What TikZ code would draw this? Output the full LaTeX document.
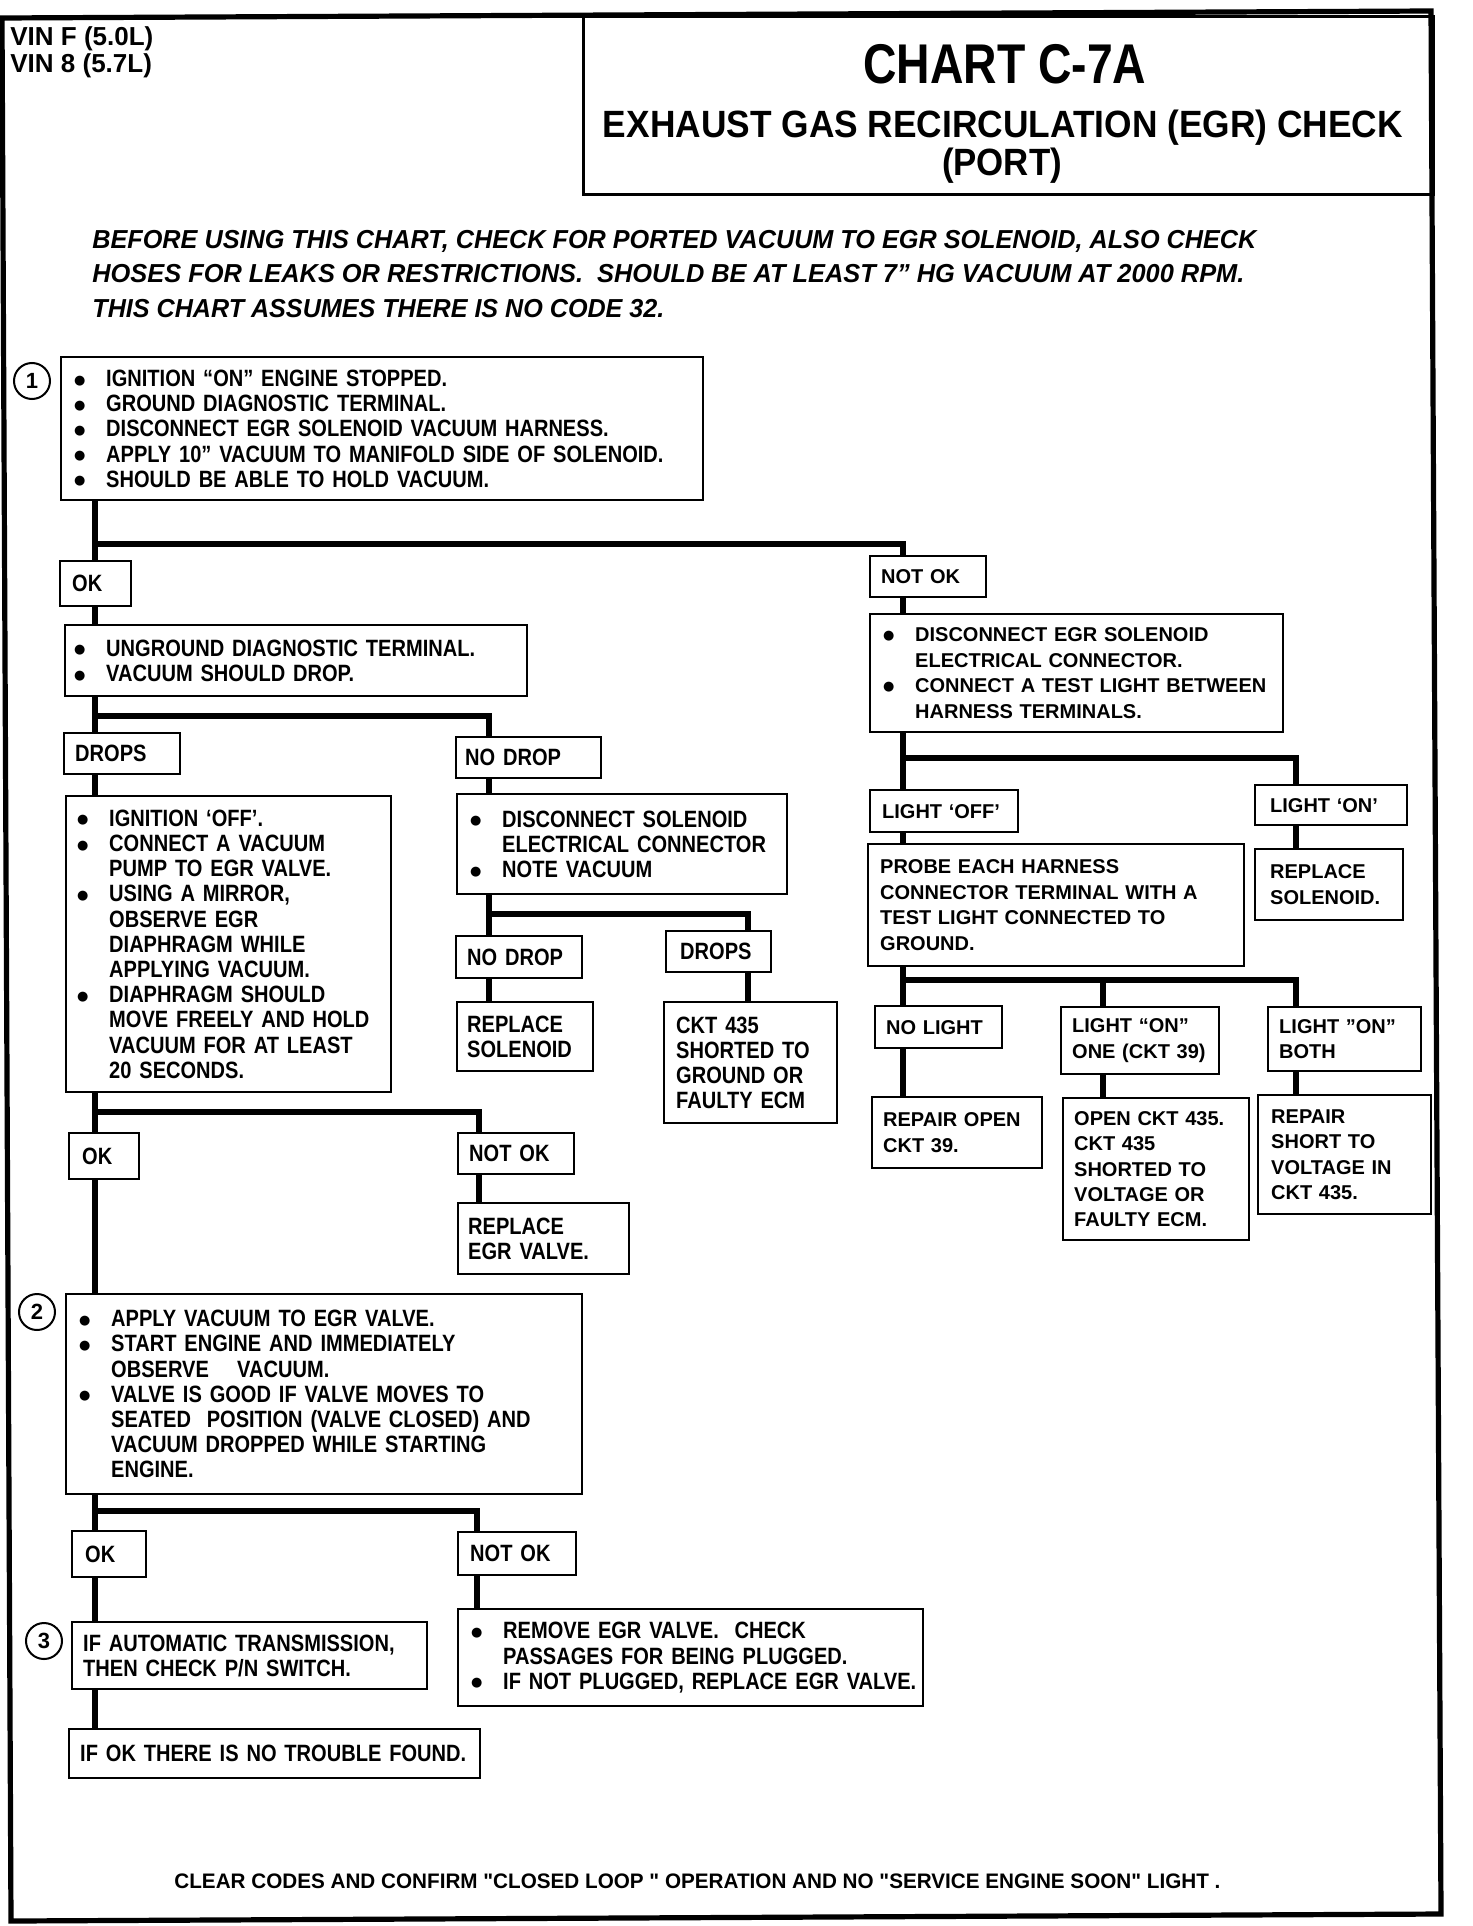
\documentclass[tikz,border=0pt]{standalone}
\usepackage{fontspec}
\usepackage{graphicx}
\setmainfont{Liberation Sans}
\newfontfamily\cnd{Liberation Sans}[FakeStretch=0.85]
\newfontfamily\djv{DejaVu Sans}
\newcommand\lft{\fontsize{11.8}{12.6}\selectfont\cnd\bfseries}
\newcommand\rgt{\fontsize{10.0}{12.7}\selectfont\bfseries}
\newcommand\xbul{\raisebox{1.2pt}{\djv\fontsize{6.5}{7}\selectfont ●}}
\newcommand\xitm[1]{\mbox{\makebox[17pt][l]{\hspace*{1pt}\xbul}#1}}
\newcommand\xcnt[1]{\mbox{\hspace*{17pt}#1}}
\newcommand\xlne[1]{\mbox{#1}}
\tikzset{
  box/.style={draw, line width=1.2pt, anchor=north west, inner ysep=0pt, align=left},
  conn/.style={line width=3pt},
  numc/.style={circle, draw, line width=1pt, minimum size=18pt, inner sep=0pt, font=\fontsize{11}{12}\selectfont\bfseries},
}
\newcommand\bx[8]{%
  \pgfmathsetmacro\bxtw{#4/2-2*#6}%
  \node[box, inner xsep=#6pt, minimum width=#4*0.5pt, minimum height=#5*0.5pt, text width=\bxtw pt, font=#7] (#1) at (#2,#3) {#8};}
\begin{document}
\begin{tikzpicture}[x=0.5pt,y=-0.5pt]
\useasboundingbox (0,0) rectangle (1472,1926);
% outer frame
\draw[line width=2.6pt, line join=miter] (2,18) -- (1431,11) -- (1441,1914) -- (11,1921) -- cycle;
% title box
\node[draw, line width=1.5pt, anchor=north west, minimum width=425pt, minimum height=89pt, inner sep=0pt] (title) at (582,15) {};
\node[anchor=base, inner sep=0pt, font=\fontsize{28}{30}\selectfont\cnd\bfseries] (titleA) at (1005,84) {\resizebox{141.5pt}{\height}{CHART C-7A}};
\node[anchor=base, inner sep=0pt, font=\fontsize{19}{21}\selectfont\cnd\bfseries] (titleB) at (1003,138) {\resizebox{400pt}{\height}{EXHAUST GAS RECIRCULATION (EGR) CHECK}};
\node[anchor=base, inner sep=0pt, font=\fontsize{19}{21}\selectfont\cnd\bfseries] (titleC) at (1002,176) {\resizebox{60pt}{\height}{(PORT)}};
\node[anchor=base west, inner sep=0pt, font=\fontsize{13}{14}\selectfont\bfseries] (vin1) at (10,46) {VIN F (5.0L)};
\node[anchor=base west, inner sep=0pt, font=\fontsize{13}{14}\selectfont\bfseries] (vin2) at (10,73) {VIN 8 (5.7L)};
% intro
\node[anchor=base west, inner sep=0pt, font=\fontsize{13}{14}\selectfont\cnd\bfseries\itshape] (intro1) at (92,249) {\resizebox{582pt}{\height}{BEFORE USING THIS CHART, CHECK FOR PORTED VACUUM TO EGR SOLENOID, ALSO CHECK}};
\node[anchor=base west, inner sep=0pt, font=\fontsize{13}{14}\selectfont\cnd\bfseries\itshape] (intro2) at (92,283) {\resizebox{576pt}{\height}{HOSES FOR LEAKS OR RESTRICTIONS.\ \ SHOULD BE AT LEAST 7” HG VACUUM AT 2000 RPM.}};
\node[anchor=base west, inner sep=0pt, font=\fontsize{13}{14}\selectfont\cnd\bfseries\itshape] (intro3) at (92,317) {\resizebox{286pt}{\height}{THIS CHART ASSUMES THERE IS NO CODE 32.}};
% circles
\node[numc] (c1) at (32,381) {1};
\node[numc] (c2) at (37,1312) {2};
\node[numc] (c3) at (44,1641) {3};
% boxes
\bx{b1}{60}{356}{642}{143}{5.5}{\lft}{\xitm{IGNITION “ON” ENGINE STOPPED.}\\\xitm{GROUND DIAGNOSTIC TERMINAL.}\\\xitm{DISCONNECT EGR SOLENOID VACUUM HARNESS.}\\\xitm{APPLY 10” VACUUM TO MANIFOLD SIDE OF SOLENOID.}\\\xitm{SHOULD BE ABLE TO HOLD VACUUM.}}
\bx{ok1}{59}{560}{71}{45}{6}{\lft}{\xlne{OK}}
\bx{notok1}{869}{555}{116}{41}{5.5}{\rgt}{\xlne{NOT OK}}
\bx{b2}{64}{624}{462}{71}{3.5}{\lft}{\xitm{UNGROUND DIAGNOSTIC TERMINAL.}\\\xitm{VACUUM SHOULD DROP.}}
\bx{b3}{869}{613}{413}{118}{5.5}{\rgt}{\xitm{DISCONNECT EGR SOLENOID}\\\xcnt{ELECTRICAL CONNECTOR.}\\\xitm{CONNECT A TEST LIGHT BETWEEN}\\\xcnt{HARNESS TERMINALS.}}
\bx{drops1}{63}{732}{116}{41}{5.5}{\lft}{\xlne{DROPS}}
\bx{nodrop1}{455}{736}{145}{41}{4.5}{\lft}{\xlne{NO DROP}}
\bx{b4}{65}{795}{325}{296}{4.5}{\lft}{\xitm{IGNITION ‘OFF’.}\\\xitm{CONNECT A VACUUM}\\\xcnt{PUMP TO EGR VALVE.}\\\xitm{USING A MIRROR,}\\\xcnt{OBSERVE EGR}\\\xcnt{DIAPHRAGM WHILE}\\\xcnt{APPLYING VACUUM.}\\\xitm{DIAPHRAGM SHOULD}\\\xcnt{MOVE FREELY AND HOLD}\\\xcnt{VACUUM FOR AT LEAST}\\\xcnt{20 SECONDS.}}
\bx{b5}{456}{793}{330}{100}{5.5}{\lft}{\xitm{DISCONNECT SOLENOID}\\\xcnt{ELECTRICAL CONNECTOR}\\\xitm{NOTE VACUUM}}
\bx{nodrop2}{455}{935}{126}{42}{5.5}{\lft}{\xlne{NO DROP}}
\bx{drops2}{665}{930}{105}{41}{7}{\lft}{\xlne{DROPS}}
\bx{b6}{456}{1001}{136}{69}{5}{\lft}{\xlne{REPLACE}\\\xlne{SOLENOID}}
\bx{b7}{663}{1001}{173}{121}{6}{\lft}{\xlne{CKT 435}\\\xlne{SHORTED TO}\\\xlne{GROUND OR}\\\xlne{FAULTY ECM}}
\bx{ok2}{68}{1132}{70}{46}{6.5}{\lft}{\xlne{OK}}
\bx{notok2}{457}{1132}{116}{41}{5.5}{\lft}{\xlne{NOT OK}}
\bx{b8}{457}{1202}{171}{71}{5}{\lft}{\xlne{REPLACE}\\\xlne{EGR VALVE.}}
\bx{b9}{65}{1293}{516}{200}{5.5}{\lft}{\xitm{APPLY VACUUM TO EGR VALVE.}\\\xitm{START ENGINE AND IMMEDIATELY}\\\xcnt{OBSERVE\hspace{1.2em}VACUUM.}\\\xitm{VALVE IS GOOD IF VALVE MOVES TO}\\\xcnt{SEATED\ \ POSITION (VALVE CLOSED) AND}\\\xcnt{VACUUM DROPPED WHILE STARTING}\\\xcnt{ENGINE.}}
\bx{ok3}{71}{1530}{74}{46}{6.5}{\lft}{\xlne{OK}}
\bx{notok3}{457}{1531}{118}{43}{6}{\lft}{\xlne{NOT OK}}
\bx{b10}{71}{1621}{355}{67}{5.5}{\lft}{\xlne{IF AUTOMATIC TRANSMISSION,}\\\xlne{THEN CHECK P/N SWITCH.}}
\bx{b11}{457}{1608}{465}{97}{5.5}{\lft}{\xitm{REMOVE EGR VALVE.\ \ CHECK}\\\xcnt{PASSAGES FOR BEING PLUGGED.}\\\xitm{IF NOT PLUGGED, REPLACE EGR VALVE.}}
\bx{b12}{68}{1728}{411}{49}{5.5}{\lft}{\xlne{IF OK THERE IS NO TROUBLE FOUND.}}
\bx{lightoff}{869}{789}{148}{42}{6}{\rgt}{\xlne{LIGHT ‘OFF’}}
\bx{lighton}{1254}{784}{152}{40}{7.5}{\rgt}{\xlne{LIGHT ‘ON’}}
\bx{b13}{867}{843}{376}{122}{6}{\rgt}{\xlne{PROBE EACH HARNESS}\\\xlne{CONNECTOR TERMINAL WITH A}\\\xlne{TEST LIGHT CONNECTED TO}\\\xlne{GROUND.}}
\bx{b14}{1254}{848}{148}{71}{7.5}{\rgt}{\xlne{REPLACE}\\\xlne{SOLENOID.}}
\bx{nolight}{874}{1005}{127}{42}{5.5}{\rgt}{\xlne{NO LIGHT}}
\bx{lightone}{1060}{1006}{158}{67}{5.5}{\rgt}{\xlne{LIGHT “ON”}\\\xlne{ONE (CKT 39)}}
\bx{lightboth}{1267}{1006}{153}{64}{5.5}{\rgt}{\xlne{LIGHT ”ON”}\\\xlne{BOTH}}
\bx{b15}{871}{1096}{170}{71}{5.5}{\rgt}{\xlne{REPAIR OPEN}\\\xlne{CKT 39.}}
\bx{b16}{1062}{1097}{186}{142}{5.5}{\rgt}{\xlne{OPEN CKT 435.}\\\xlne{CKT 435}\\\xlne{SHORTED TO}\\\xlne{VOLTAGE OR}\\\xlne{FAULTY ECM.}}
\bx{b17}{1257}{1094}{173}{119}{6.5}{\rgt}{\xlne{REPAIR}\\\xlne{SHORT TO}\\\xlne{VOLTAGE IN}\\\xlne{CKT 435.}}
% footer
\node[anchor=base west, inner sep=0pt, font=\fontsize{10.5}{12}\selectfont\cnd\bfseries] (foot) at (174,1888) {\resizebox{523pt}{\height}{CLEAR CODES AND CONFIRM "CLOSED LOOP " OPERATION AND NO "SERVICE ENGINE SOON" LIGHT .}};
% junctions
\coordinate (s1) at (95,544); \coordinate (t1) at (903,544);
\coordinate (s2) at (95,716); \coordinate (t2) at (489,716);
\coordinate (s3) at (489,914); \coordinate (t3) at (748,914);
\coordinate (s4) at (95,1112); \coordinate (t4) at (479,1112);
\coordinate (s5) at (95,1511); \coordinate (t5) at (477,1511);
\coordinate (s6) at (903,758); \coordinate (t6) at (1296,758);
\coordinate (s7) at (903,980); \coordinate (m7) at (1103,980); \coordinate (t7) at (1296,980);
% connectors
\draw[conn] (b1.south -| s1) -- (ok1.north -| s1);
\draw[conn] (s1) -- (t1) -- (notok1.north -| t1);
\draw[conn] (ok1.south -| s1) -- (b2.north -| s1);
\draw[conn] (notok1.south -| t1) -- (b3.north -| t1);
\draw[conn] (b2.south -| s2) -- (drops1.north -| s2);
\draw[conn] (s2) -- (t2) -- (nodrop1.north -| t2);
\draw[conn] (drops1.south -| s2) -- (b4.north -| s2);
\draw[conn] (nodrop1.south -| t2) -- (b5.north -| t2);
\draw[conn] (b5.south -| s3) -- (nodrop2.north -| s3);
\draw[conn] (s3) -- (t3) -- (drops2.north -| t3);
\draw[conn] (nodrop2.south -| s3) -- (b6.north -| s3);
\draw[conn] (drops2.south -| t3) -- (b7.north -| t3);
\draw[conn] (b4.south -| s4) -- (ok2.north -| s4);
\draw[conn] (s4) -- (t4) -- (notok2.north -| t4);
\draw[conn] (notok2.south -| t4) -- (b8.north -| t4);
\draw[conn] (ok2.south -| s4) -- (b9.north -| s4);
\draw[conn] (b9.south -| s5) -- (ok3.north -| s5);
\draw[conn] (s5) -- (t5) -- (notok3.north -| t5);
\draw[conn] (notok3.south -| t5) -- (b11.north -| t5);
\draw[conn] (ok3.south -| s5) -- (b10.north -| s5);
\draw[conn] (b10.south -| s5) -- (b12.north -| s5);
\draw[conn] (b3.south -| s6) -- (lightoff.north -| s6);
\draw[conn] (s6) -- (t6) -- (lighton.north -| t6);
\draw[conn] (lightoff.south -| s6) -- (b13.north -| s6);
\draw[conn] (lighton.south -| t6) -- (b14.north -| t6);
\draw[conn] (b13.south -| s7) -- (nolight.north -| s7);
\draw[conn] (s7) -- (t7) -- (lightboth.north -| t7);
\draw[conn] (m7) -- (lightone.north -| m7);
\draw[conn] (nolight.south -| s7) -- (b15.north -| s7);
\draw[conn] (lightone.south -| m7) -- (b16.north -| m7);
\draw[conn] (lightboth.south -| t7) -- (b17.north -| t7);
\end{tikzpicture}
\end{document}
